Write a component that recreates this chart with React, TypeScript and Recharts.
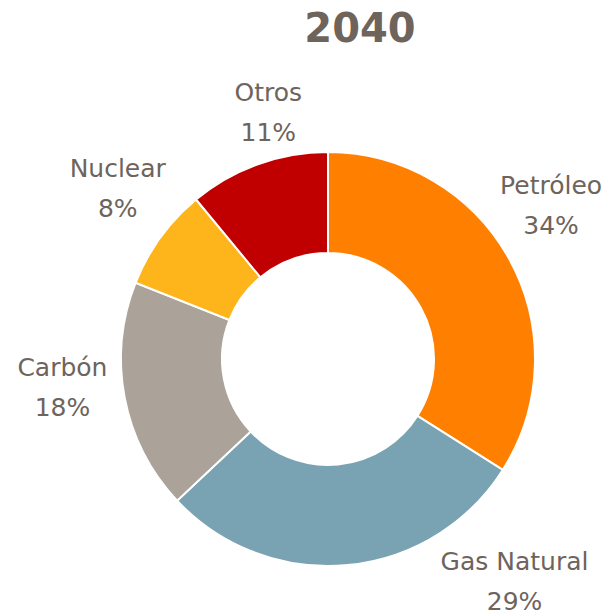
import { PieChart, Pie, Cell } from 'recharts'

const sources = ['Petróleo', 'Gas Natural', 'Carbón', 'Nuclear', 'Otros']
const shares = [34, 29, 18, 8, 11]
const colors = ['#FF8000', '#79A3B3', '#ABA39A', '#FDB51B', '#C00000']

// label nudges away from the plain radial position (Excel "best fit" look)
const labelNudge = [
  [4, -33],
  [163, -26],
  [-20, -18],
  [-8, -24],
  [25, -11],
]

const TEXT = '#6E645C'
const RAD = Math.PI / 180

const data = sources.map((name, i) => ({ name, value: shares[i] }))

function renderLabel(props: any) {
  const { cx, cy, midAngle, index } = props
  const r = 250
  const x = cx + r * Math.cos(-midAngle * RAD) + labelNudge[index][0]
  const y = cy + r * Math.sin(-midAngle * RAD) + labelNudge[index][1]
  return (
    <g>
      <text x={x} y={y - 20} textAnchor="middle" dominantBaseline="central" fill={TEXT} fontSize={25}>
        {sources[index]}
      </text>
      <text x={x} y={y + 20} textAnchor="middle" dominantBaseline="central" fill={TEXT} fontSize={25}>
        {shares[index]}%
      </text>
    </g>
  )
}

export default function App() {
  return (
    <div
      style={{
        position: 'absolute',
        left: 0,
        top: 0,
        width: 611,
        height: 616,
        background: '#fff',
        fontFamily: '"DejaVu Sans", sans-serif',
      }}
    >
      <div
        style={{
          position: 'absolute',
          left: 0,
          top: 5,
          width: 720,
          textAlign: 'center',
          fontWeight: 700,
          fontSize: 40,
          color: TEXT,
        }}
      >
        2040
      </div>
      <PieChart width={611} height={616} margin={{ top: 0, right: 0, bottom: 0, left: 0 }}>
        <Pie
          data={data}
          dataKey="value"
          nameKey="name"
          cx={328}
          cy={359}
          innerRadius={106}
          outerRadius={207}
          startAngle={90}
          endAngle={-270}
          stroke="#ffffff"
          strokeWidth={2}
          label={renderLabel}
          labelLine={false}
          isAnimationActive={false}
        >
          {data.map((d, i) => (
            <Cell key={d.name} fill={colors[i]} />
          ))}
        </Pie>
      </PieChart>
    </div>
  )
}
